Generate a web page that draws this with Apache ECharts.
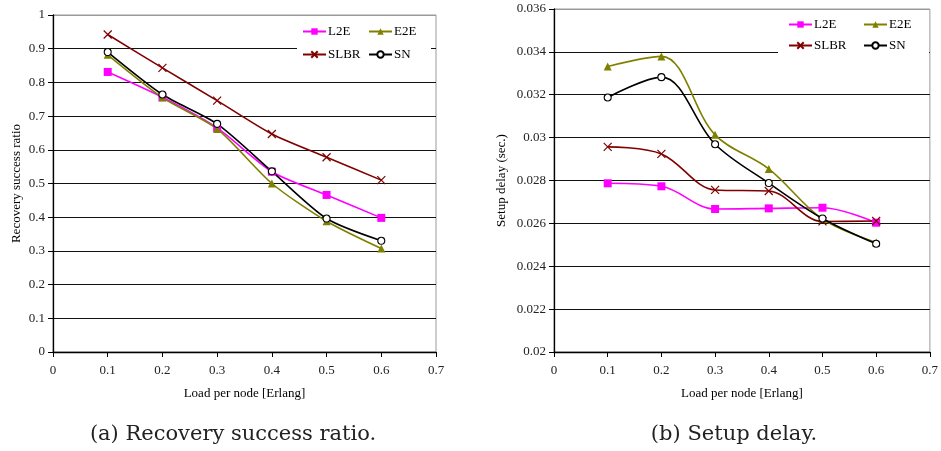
<!DOCTYPE html>
<html>
<head>
<meta charset="utf-8">
<script src="https://cdn.jsdelivr.net/npm/echarts@6/dist/echarts.min.js"></script>
<style>
  html, body { margin: 0; padding: 0; background: #fff; }
  #chart { width: 941px; height: 451px; }
</style>
</head>
<body>
<div id="chart"></div>
<script>
// Load per node [Erlang]
const loads = [0.1, 0.2, 0.3, 0.4, 0.5, 0.6];

// (a) Recovery success ratio
const ratioL2E  = [0.831, 0.756, 0.665, 0.535, 0.466, 0.398];
const ratioE2E  = [0.882, 0.755, 0.662, 0.500, 0.388, 0.307];
const ratioSLBR = [0.942, 0.843, 0.746, 0.647, 0.578, 0.510];
const ratioSN   = [0.890, 0.764, 0.677, 0.536, 0.396, 0.330];

// (b) Setup delay (sec.)
const delayL2E  = [0.02787, 0.02773, 0.02667, 0.02670, 0.02673, 0.02603];
const delayE2E  = [0.03332, 0.03379, 0.03013, 0.02854, 0.02620, 0.02511];
const delaySLBR = [0.02957, 0.02924, 0.02756, 0.02751, 0.02609, 0.02611];
const delaySN   = [0.03187, 0.03282, 0.02969, 0.02788, 0.02623, 0.02505];

const seriesNames = ['L2E', 'E2E', 'SLBR', 'SN'];
const captions = ['(a) Recovery success ratio.', '(b) Setup delay.'];

const FONT = '"Liberation Serif", "Times New Roman", serif';
const CAPTION_FONT = '"DejaVu Serif", serif';
const CROSS = 'path://M0,0 L10,10 M10,0 L0,10';

const styles = {
  L2E:  { color: '#ff00ff', symbol: 'rect', symbolSize: 8, itemStyle: { color: '#ff00ff' } },
  E2E:  { color: '#808000', symbol: 'triangle', symbolSize: 8, itemStyle: { color: '#808000' } },
  SLBR: { color: '#800000', symbol: CROSS, symbolSize: 8,
          itemStyle: { color: 'none', borderColor: '#800000', borderWidth: 1.2 } },
  SN:   { color: '#000000', symbol: 'circle', symbolSize: 7,
          itemStyle: { color: '#ffffff', borderColor: '#000000', borderWidth: 1.1 } }
};

function pairs(xs, ys) { return xs.map((x, i) => [x, ys[i]]); }

function makeSeries(name, values, gi, smooth) {
  const s = styles[name];
  return {
    name: name, type: 'line', xAxisIndex: gi, yAxisIndex: gi,
    data: pairs(loads, values),
    smooth: smooth, showSymbol: true,
    symbol: s.symbol, symbolSize: s.symbolSize,
    lineStyle: { color: s.color, width: 1.6 },
    itemStyle: s.itemStyle,
    emphasis: { disabled: true },
    z: 3
  };
}

function splitColors(n) {
  const arr = [];
  for (let i = 0; i < n; i++) arr.push(i === n - 1 ? '#9a9a9a' : '#111');
  return arr;
}

function xAxisCfg(gi) {
  return {
    type: 'value', gridIndex: gi, min: 0, max: 0.7, interval: 0.1,
    name: 'Load per node [Erlang]', nameLocation: 'middle', nameGap: 35,
    nameTextStyle: { fontFamily: FONT, fontSize: 13, color: '#000' },
    axisLine: { lineStyle: { color: '#000', width: 1.3 } },
    axisTick: { show: true, length: 5, lineStyle: { color: '#000' } },
    axisLabel: { fontFamily: FONT, fontSize: 13, color: '#222', margin: 12,
                 formatter: v => String(+v.toFixed(1)) },
    splitLine: { show: false }
  };
}

function legendCols(left1, left2, top, gap) {
  const common = {
    orient: 'vertical', top: top, padding: 0, itemGap: gap,
    itemWidth: 23, itemHeight: 8,
    textStyle: { fontFamily: FONT, fontSize: 13, color: '#000', padding: [0, 0, 0, -3] },
    selectedMode: false
  };
  return [
    Object.assign({}, common, { left: left1, data: ['L2E', 'SLBR'] }),
    Object.assign({}, common, { left: left2, data: ['E2E', 'SN'] })
  ];
}

const option = {
  animation: false,
  backgroundColor: '#ffffff',
  title: [
    { text: captions[0], left: 228, top: 419, textAlign: 'center',
      textStyle: { fontFamily: CAPTION_FONT, fontSize: 21, fontWeight: 'normal', color: '#222' } },
    { text: captions[1], left: 729, top: 419, textAlign: 'center',
      textStyle: { fontFamily: CAPTION_FONT, fontSize: 21, fontWeight: 'normal', color: '#222' } }
  ],
  grid: [
    { left: 53, top: 15, width: 383, height: 337, show: true,
      borderColor: '#9a9a9a', borderWidth: 1, backgroundColor: 'transparent' },
    { left: 554, top: 9, width: 379, height: 343, show: true,
      borderColor: '#9a9a9a', borderWidth: 1, backgroundColor: 'transparent' }
  ],
  xAxis: [xAxisCfg(0), xAxisCfg(1)],
  yAxis: [
    {
      type: 'value', gridIndex: 0, min: 0, max: 1, interval: 0.1,
      name: 'Recovery success ratio', nameLocation: 'middle', nameGap: 30,
      nameTextStyle: { fontFamily: FONT, fontSize: 13, color: '#000' },
      axisLine: { show: true, lineStyle: { color: '#000', width: 1.3 } },
      axisTick: { show: true, length: 5, lineStyle: { color: '#000' } },
      axisLabel: { fontFamily: FONT, fontSize: 13, color: '#222', margin: 8,
                   formatter: v => String(+v.toFixed(1)) },
      splitLine: { show: true, lineStyle: { color: splitColors(11), width: 1 } }
    },
    {
      type: 'value', gridIndex: 1, min: 0.02, max: 0.036, interval: 0.002,
      name: 'Setup delay (sec.)', nameLocation: 'middle', nameGap: 46,
      nameTextStyle: { fontFamily: FONT, fontSize: 13, color: '#000' },
      axisLine: { show: true, lineStyle: { color: '#000', width: 1.3 } },
      axisTick: { show: true, length: 5, lineStyle: { color: '#000' } },
      axisLabel: { fontFamily: FONT, fontSize: 13, color: '#222', margin: 8,
                   formatter: v => String(+v.toFixed(3)) },
      splitLine: { show: true, lineStyle: { color: splitColors(9), width: 1 } }
    }
  ],
  legend: [
    ...legendCols(302, 368, 25, 10),
    ...legendCols(788, 863, 18, 8)
  ],
  graphic: [
    { type: 'rect', shape: { x: 297, y: 16, width: 134, height: 50 },
      style: { fill: '#ffffff' }, z: 1, silent: true },
    { type: 'rect', shape: { x: 778, y: 10, width: 151, height: 50 },
      style: { fill: '#ffffff' }, z: 1, silent: true }
  ],
  series: [
    makeSeries('L2E', ratioL2E, 0, 0.25),
    makeSeries('E2E', ratioE2E, 0, 0.25),
    makeSeries('SLBR', ratioSLBR, 0, 0.25),
    makeSeries('SN', ratioSN, 0, 0.25),
    makeSeries('L2E', delayL2E, 1, 0.35),
    makeSeries('E2E', delayE2E, 1, 0.35),
    makeSeries('SLBR', delaySLBR, 1, 0.35),
    makeSeries('SN', delaySN, 1, 0.35)
  ]
};

const chart = echarts.init(document.getElementById('chart'), null, { renderer: 'canvas' });
chart.setOption(option);
</script>
</body>
</html>
